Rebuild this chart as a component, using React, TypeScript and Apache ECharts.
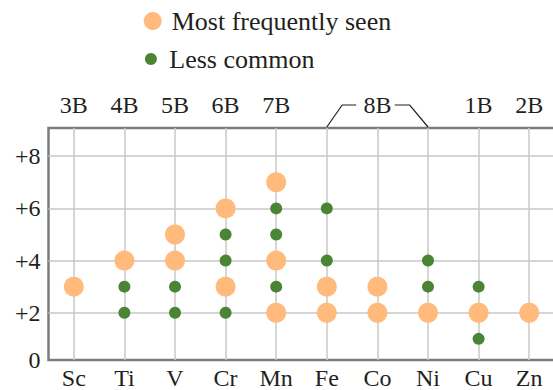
import React, { useEffect, useRef } from "react";
import * as echarts from "echarts";

const elements = ["Sc", "Ti", "V", "Cr", "Mn", "Fe", "Co", "Ni", "Cu", "Zn"];
const groupLabels = ["3B", "4B", "5B", "6B", "7B", "", "8B", "", "1B", "2B"];
const commonStates = [[3], [4], [5, 4], [6, 3], [7, 4, 2], [3, 2], [3, 2], [2], [2], [2]];
const lessCommonStates = [[], [3, 2], [3, 2], [5, 4, 2], [6, 5, 3], [6, 4], [], [4, 3], [3, 1], []];
const yTickValues = [2, 4, 6, 8];
const yMin = 0.19;
const yMax = 9.08;
const bracketFrom = "Fe";
const bracketTo = "Ni";

const FONT = "'Liberation Serif', 'Times New Roman', serif";
const TEXT = "#231f20";
const ORANGE = "#ffba7c";
const GREEN = "#4a8535";
const GRIDLINE = "#c9c9c9";

function toPoints(states: number[][]) {
  const pts: [number, number][] = [];
  states.forEach((arr, i) => arr.forEach((v) => pts.push([i, v])));
  return pts;
}

export default function App() {
  const ref = useRef<HTMLDivElement>(null);
  useEffect(() => {
    if (!ref.current) return;
    const chart = echarts.init(ref.current, null, { renderer: "svg" });
    const option: any = {
      animation: false,
      backgroundColor: "#ffffff",
      textStyle: { fontFamily: FONT, color: TEXT },
      legend: [
        {
          left: 138.7,
          top: 3,
          itemWidth: 28,
          itemHeight: 18,
          icon: "circle",
          data: ["Most frequently seen"],
          textStyle: { fontFamily: FONT, fontSize: 26, color: TEXT },
        },
        {
          left: 139.9,
          top: 41,
          itemWidth: 26.8,
          itemHeight: 12,
          icon: "circle",
          data: ["Less common"],
          textStyle: { fontFamily: FONT, fontSize: 26, color: TEXT },
        },
      ],
      grid: {
        left: 48.5,
        right: -1.5,
        top: 128,
        bottom: 30,
        outerBoundsMode: "none",
        containLabel: false,
        show: true,
        borderColor: "#7b7b7b",
        borderWidth: 2.5,
        backgroundColor: "transparent",
      },
      xAxis: [
        {
          type: "category",
          data: elements,
          position: "bottom",
          axisLine: { show: false },
          axisTick: { show: false },
          splitLine: { show: false },
          axisLabel: { fontFamily: FONT, fontSize: 24, color: TEXT, margin: 6, lineHeight: 24 },
        },
        {
          type: "category",
          data: elements,
          position: "top",
          axisLine: { show: false },
          axisTick: { show: false },
          splitLine: { show: false },
          axisLabel: {
            fontFamily: FONT,
            fontSize: 24,
            color: TEXT,
            margin: 11,
            interval: 0,
            formatter: (_v: string, i: number) => groupLabels[i],
          },
        },
      ],
      yAxis: {
        type: "value",
        min: yMin,
        max: yMax,
        axisLine: { show: false },
        axisTick: { show: false },
        splitLine: { show: false },
        axisLabel: {
          customValues: [yMin, ...yTickValues],
          fontFamily: FONT,
          fontSize: 24,
          color: TEXT,
          margin: 8,
          formatter: (v: number) => (v < 1 ? "0" : "+" + Math.round(v)),
        },
      },
      series: [
        {
          type: "line",
          data: [],
          z: 1,
          silent: true,
          markLine: {
            silent: true,
            z: 1,
            symbol: ["none", "none"],
            label: { show: false },
            lineStyle: { color: GRIDLINE, width: 1.5, type: "solid" },
            data: [
              ...yTickValues.map((v) => ({ yAxis: v })),
              ...elements.map((e) => ({ xAxis: e })),
            ],
          },
        },
        {
          name: "Most frequently seen",
          type: "scatter",
          z: 10,
          symbol: "circle",
          symbolSize: 20,
          itemStyle: { color: ORANGE, opacity: 1 },
          data: toPoints(commonStates),
        },
        {
          name: "Less common",
          type: "scatter",
          z: 11,
          symbol: "circle",
          symbolSize: 12,
          itemStyle: { color: GREEN, opacity: 1 },
          data: toPoints(lessCommonStates),
        },
      ],
    };
    chart.setOption(option);

    const xA = chart.convertToPixel({ xAxisIndex: 0 }, elements.indexOf(bracketFrom)) as number;
    const xB = chart.convertToPixel({ xAxisIndex: 0 }, elements.indexOf(bracketTo)) as number;
    const yTop = chart.convertToPixel({ yAxisIndex: 0 }, yMax) as number;
    const yBr = yTop - 23;
    chart.setOption({
      graphic: [
        {
          type: "polyline",
          silent: true,
          shape: { points: [[xA, yTop - 1], [xA + 15.4, yBr], [xA + 29.4, yBr]] },
          style: { stroke: TEXT, lineWidth: 1.2, fill: "none" },
        },
        {
          type: "polyline",
          silent: true,
          shape: { points: [[xB - 33.3, yBr], [xB - 18.3, yBr], [xB, yTop - 1]] },
          style: { stroke: TEXT, lineWidth: 1.2, fill: "none" },
        },
      ],
    });
    return () => chart.dispose();
  }, []);
  return <div ref={ref} style={{ width: 553, height: 390, position: "absolute", left: 0, top: 0 }} />;
}
